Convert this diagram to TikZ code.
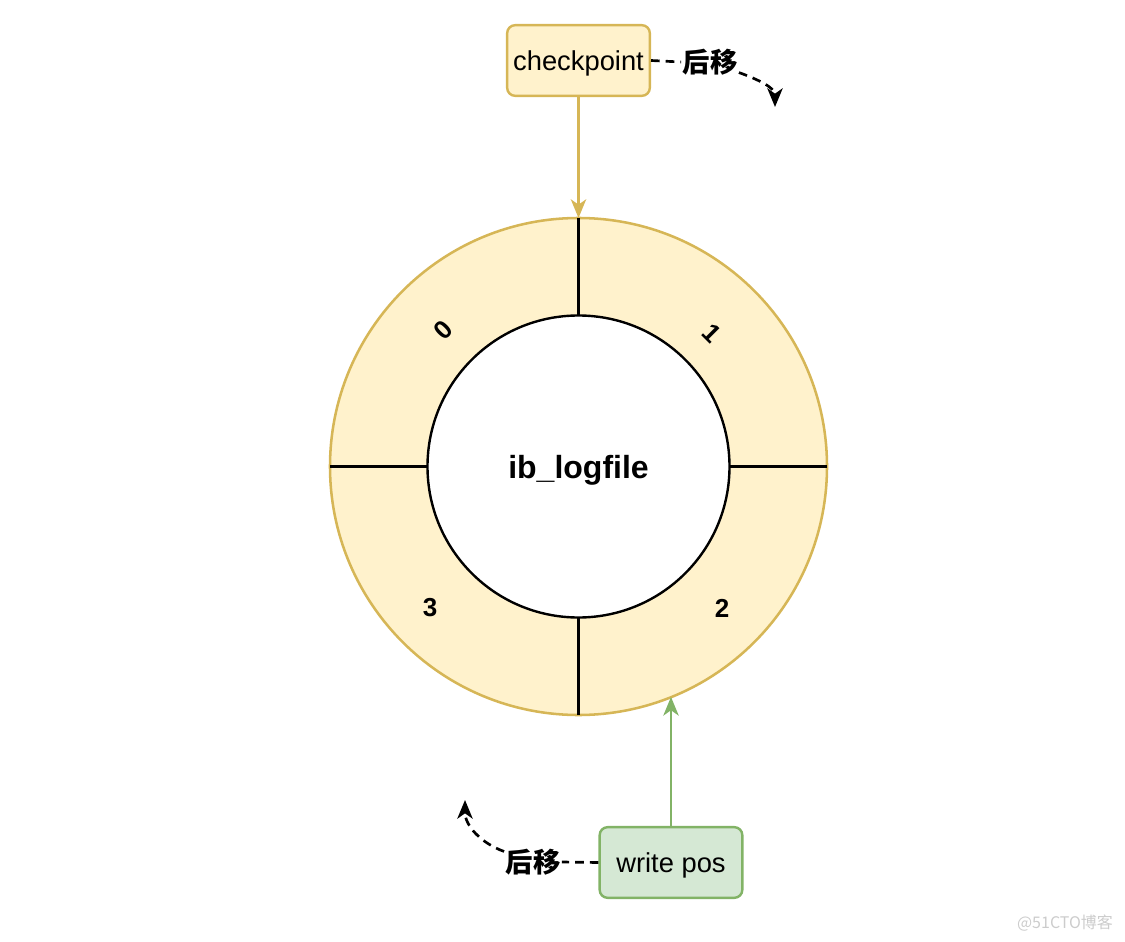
\documentclass[tikz,border=0pt]{standalone}
\usepackage{fontspec}
\setmainfont{Liberation Sans}
\newfontfamily\cjk{Noto Sans CJK SC}
\usetikzlibrary{arrows.meta}
\definecolor{ringfill}{HTML}{FFF2CC}
\definecolor{ringdraw}{HTML}{D6B656}
\definecolor{posfill}{HTML}{D5E8D4}
\definecolor{posdraw}{HTML}{82B366}
\tikzset{
  box/.style={draw,rounded corners=6pt,line width=1.8pt,minimum width=107pt,minimum height=53pt,inner sep=0pt,text depth=0pt,font=\fontsize{20.5}{24}\selectfont},
  partnum/.style={font=\bfseries\fontsize{19.5}{22}\selectfont},
  movetext/.style={font=\cjk\bfseries\fontsize{20.5}{24}\selectfont,inner sep=1pt},
  moveline/.style={line width=2pt,dash pattern=on 6.5pt off 4.5pt},
  tip/.style={-{Stealth[length=14pt,width=11.5pt,inset=4pt]}},
}

\begin{document}
\begin{tikzpicture}[x=0.75pt,y=-0.75pt]
	\useasboundingbox (0,0) rectangle (1125,942);

	\node[circle,draw=ringdraw,fill=ringfill,line width=1.9pt,minimum size=372.75pt,inner sep=0pt,outer sep=0pt] (ring) at (578.5,466.5) {};
	\node[circle,draw,fill=white,line width=1.8pt,minimum size=226.5pt,inner sep=0pt,outer sep=0pt,text depth=0pt,font=\bfseries\fontsize{24}{28}\selectfont] (core) at (578.5,466.5) {ib\_logfile};

	\draw[line width=1.8pt] (ring.north) -- (core.north);
	\draw[line width=1.8pt] (ring.south) -- (core.south);
	\draw[line width=1.8pt] (ring.west) -- (core.west);
	\draw[line width=1.8pt] (ring.east) -- (core.east);

	\node[partnum,rotate=45] (p0) at (443,330) {0};
	\node[partnum,rotate=-45] (p1) at (712,333) {1};
	\node[partnum] (p2) at (722,608) {2};
	\node[partnum] (p3) at (430,608) {3};

	\node[box,draw=ringdraw,fill=ringfill] (cp) at (578.5,60.5) {checkpoint};
	\node[box,draw=posdraw,fill=posfill] (wp) at (671,862.5) {write pos};

	\draw[ringdraw,line width=1.8pt,tip] (cp.south) -- (ring.north);
	\draw[posdraw,line width=1.8pt,tip] (wp.north) -- (wp.north |- ring.-68.15);

	\node[movetext] (t1) at (710,62) {后移};
	\node[movetext] (t2) at (533,862) {后移};
	\coordinate (c1) at (775,107);
	\coordinate (c2) at (465,800);

	\draw[moveline] (cp.east) -- (t1.west);
	\draw[moveline] (wp.west) -- (t2.east);
	\draw[moveline,tip] (t1.-20) to[out=-20,in=90] (c1);
	\draw[moveline,tip] (t2.160) to[out=160,in=-90] (c2);

	\node[text=gray!40,font=\cjk\fontsize{12}{14}\selectfont] (mark) at (1065,923) {@51CTO博客};
\end{tikzpicture}
\end{document}
